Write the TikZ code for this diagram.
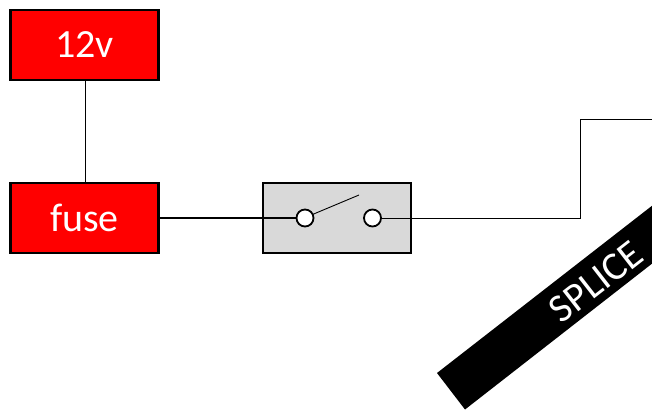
\documentclass[tikz,border=0pt]{standalone}
\usepackage{fontspec}
\setmainfont{Carlito}
\tikzset{
  wire/.style={draw=black,line width=0.9pt},
  heavywire/.style={draw=black,line width=2pt},
  box/.style={draw=black,line width=2.2pt,minimum width=148pt,minimum height=70pt,inner sep=0pt,outer sep=0pt,anchor=north west},
  redbox/.style={box,fill=red,text=white,font=\fontsize{40}{40}\selectfont},
  greybox/.style={box,fill=black!15},
  contact/.style={circle,draw=black,fill=white,line width=1.8pt,minimum size=17pt,inner sep=0pt,outer sep=0pt},
}
\begin{document}
\begin{tikzpicture}[x=1pt,y=-1pt]
\useasboundingbox (0,0) rectangle (652,409);
\clip (0,0) rectangle (652,409);
\node[redbox] (v12) at (10.5,10) {12v};
\node[redbox] (fuse) at (10.5,183) {fuse};
\node[greybox] (sw) at (263,183) {};
\node[contact] (c1) at (305,218) {};
\node[contact] (c2) at (372.5,218) {};
\coordinate (leverend) at (359,195);
\coordinate (corner2) at (580,119);
\coordinate (offpage) at (652,119);
\draw[wire] (85,80) -- (85,183);
\draw[heavywire] (fuse.east |- c1.west) -- (c1.west);
\draw[wire] (c2.east) -| (corner2) -- (offpage);
\draw[wire] (c1.25) -- (leverend);
\fill[black] (437,373) -- (465,409.5) -- (690,234) -- (662,198) -- cycle;
\node[text=white,rotate=37.9,font=\fontsize{40}{40}\selectfont,inner sep=0pt] (splice) at (596,282) {SPLICE};
\end{tikzpicture}
\end{document}
